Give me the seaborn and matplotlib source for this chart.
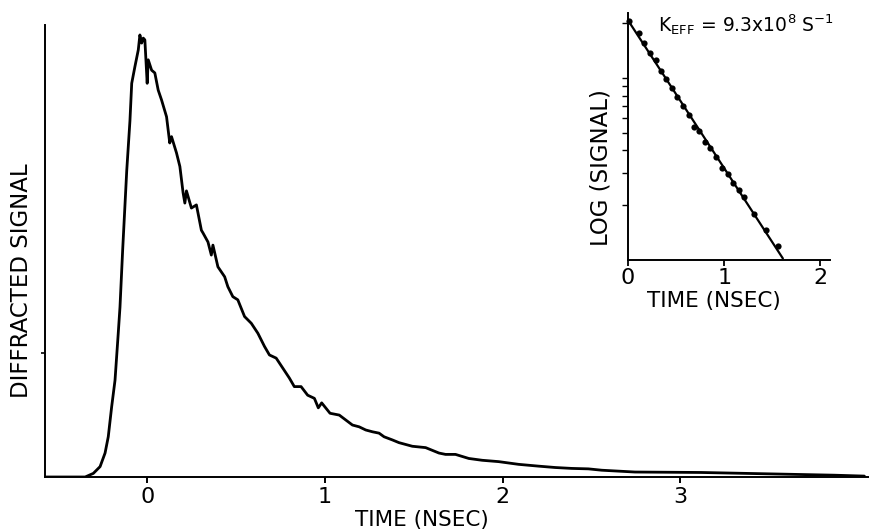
import matplotlib
matplotlib.use("Agg")
import matplotlib.pyplot as plt
import matplotlib.ticker as mticker
import seaborn as sns
import pandas as pd

# ---- main trace: diffracted signal vs time (ns), arbitrary units ----
time_ns = [-0.575, -0.349, -0.303, -0.265, -0.237, -0.219, -0.200, -0.181, -0.163, -0.153,
           -0.138, -0.115, -0.097, -0.087, -0.069, -0.050, -0.041, -0.031, -0.022, -0.013,
           0.000, 0.006, 0.025, 0.043, 0.062, 0.081, 0.109, 0.127, 0.137, 0.165,
           0.184, 0.202, 0.212, 0.221, 0.249, 0.277, 0.305, 0.314, 0.342, 0.361,
           0.370, 0.398, 0.436, 0.454, 0.482, 0.510, 0.548, 0.586, 0.623, 0.660,
           0.688, 0.726, 0.763, 0.800, 0.828, 0.866, 0.903, 0.941, 0.963, 0.982,
           1.029, 1.081, 1.155, 1.193, 1.230, 1.268, 1.305, 1.333, 1.380, 1.417,
           1.492, 1.567, 1.642, 1.679, 1.735, 1.810, 1.885, 1.978, 2.090, 2.203,
           2.296, 2.389, 2.483, 2.558, 2.745, 3.118, 3.493, 3.867, 4.036]
signal = [0.000, 0.000, 0.008, 0.023, 0.053, 0.089, 0.155, 0.214, 0.317, 0.376,
          0.502, 0.678, 0.788, 0.871, 0.908, 0.945, 0.978, 0.960, 0.971, 0.967,
          0.871, 0.923, 0.900, 0.894, 0.856, 0.834, 0.797, 0.739, 0.753, 0.717,
          0.687, 0.629, 0.606, 0.633, 0.595, 0.602, 0.546, 0.540, 0.520, 0.491,
          0.513, 0.465, 0.443, 0.421, 0.399, 0.392, 0.355, 0.340, 0.318, 0.289,
          0.270, 0.263, 0.241, 0.219, 0.200, 0.200, 0.181, 0.174, 0.153, 0.164,
          0.141, 0.137, 0.115, 0.111, 0.104, 0.100, 0.097, 0.089, 0.082, 0.076,
          0.068, 0.065, 0.053, 0.050, 0.050, 0.041, 0.037, 0.034, 0.028, 0.024,
          0.021, 0.019, 0.018, 0.015, 0.011, 0.010, 0.007, 0.004, 0.002]

main_xticks = [0, 1, 2, 3]
main_xticklabels = ["0", "1", "2", "3"]
main_ytick = [0.274]

# ---- inset: log(signal) vs time ----
inset_t = [0.010, 0.114, 0.162, 0.225, 0.287, 0.339, 0.397, 0.456, 0.511, 0.570,
           0.632, 0.691, 0.743, 0.805, 0.857, 0.915, 0.978, 1.036, 1.088, 1.150,
           1.202, 1.313, 1.433, 1.561]
inset_sig = [20.7, 17.6, 15.5, 13.8, 12.5, 11.0, 9.84, 8.77, 7.89, 7.02,
             6.26, 5.40, 5.14, 4.47, 4.11, 3.70, 3.19, 2.97, 2.64, 2.43,
             2.21, 1.80, 1.46, 1.19]
fit_t = [0.0, 1.61]
fit_sig = [20.8, 1.02]
inset_xticks = [0, 1, 2]
inset_yticks = [2, 3, 4, 5, 6, 7, 8, 9, 10, 20]

sns.set_style("ticks")
plt.rcParams["font.family"] = ["DejaVu Sans"]
plt.rcParams["mathtext.fontset"] = "dejavusans"
plt.rcParams["text.color"] = "black"
plt.rcParams["axes.labelcolor"] = "black"
plt.rcParams["xtick.color"] = "black"
plt.rcParams["ytick.color"] = "black"

W, H = 869, 532
fig = plt.figure(figsize=(W / 100, H / 100), dpi=100)

# main axes
ax = fig.add_axes([45 / W, (H - 477) / H, (W - 45) / W, (477 - 25) / H])
df = pd.DataFrame({"t": time_ns, "s": signal})
sns.lineplot(data=df, x="t", y="s", ax=ax, color="black", linewidth=2.0,
             estimator=None, sort=False)
ax.set_xlim(-0.575, 4.062)
ax.set_ylim(0, 1.0)
ax.set_xticks(main_xticks)
ax.set_xticklabels(main_xticklabels)
ax.set_yticks(main_ytick)
ax.set_yticklabels([""])
for side in ["top", "right"]:
    ax.spines[side].set_visible(False)
for side in ["left", "bottom"]:
    ax.spines[side].set_linewidth(1.4)
    ax.spines[side].set_color("black")
ax.tick_params(axis="x", direction="out", length=4, width=1.4, labelsize=16, pad=3,
               colors="black", labelcolor="black")
ax.tick_params(axis="y", direction="out", length=3, width=1.2, colors="black")
ax.set_xlabel("TIME (NSEC)", fontsize=15.5, color="black")
ax.xaxis.set_label_coords((422 - 45) / (W - 45), (477 - 510) / 452)
ax.set_ylabel("DIFFRACTED SIGNAL", fontsize=16.5, color="black")
ax.yaxis.set_label_coords((33 - 45) / (W - 45), (477 - 281) / 452)

# inset axes
ax_in = fig.add_axes([628 / W, (H - 260) / H, (830 - 628) / W, (260 - 13) / H])
sns.lineplot(x=fit_t, y=fit_sig, ax=ax_in, color="black", linewidth=1.6)
sns.scatterplot(x=inset_t, y=inset_sig, ax=ax_in, color="black", s=20, edgecolor="black",
                linewidth=0, zorder=3, clip_on=False)
ax_in.set_yscale("log")
ax_in.set_xlim(0, 2.1)
ax_in.set_ylim(1.0, 22.8)
ax_in.set_xticks(inset_xticks)
ax_in.set_xticklabels([str(v) for v in inset_xticks])
ax_in.yaxis.set_major_locator(mticker.FixedLocator(inset_yticks))
ax_in.yaxis.set_minor_locator(mticker.NullLocator())
ax_in.yaxis.set_major_formatter(mticker.NullFormatter())
for side in ["top", "right"]:
    ax_in.spines[side].set_visible(False)
for side in ["left", "bottom"]:
    ax_in.spines[side].set_linewidth(1.4)
    ax_in.spines[side].set_color("black")
ax_in.tick_params(axis="x", direction="out", length=4, width=1.3, labelsize=16, pad=2,
                  colors="black", labelcolor="black")
ax_in.tick_params(axis="y", direction="out", length=4, width=1.0, colors="black")
ax_in.set_xlabel("TIME (NSEC)", fontsize=15.5, color="black")
ax_in.xaxis.set_label_coords((714 - 628) / 202, (260 - 291) / 247)
ax_in.set_ylabel("LOG (SIGNAL)", fontsize=16.5, color="black")
ax_in.yaxis.set_label_coords((613 - 628) / 202, (260 - 168) / 247)
ax_in.patch.set_alpha(0)
ax_in.text((658 - 628) / 202, (260 - 32) / 247, r"K$_{\rm EFF}$ = 9.3x10$^8$ S$^{-1}$",
           transform=ax_in.transAxes, fontsize=13.5, va="baseline", ha="left", color="black")

fig.savefig("out.png", dpi=100)
